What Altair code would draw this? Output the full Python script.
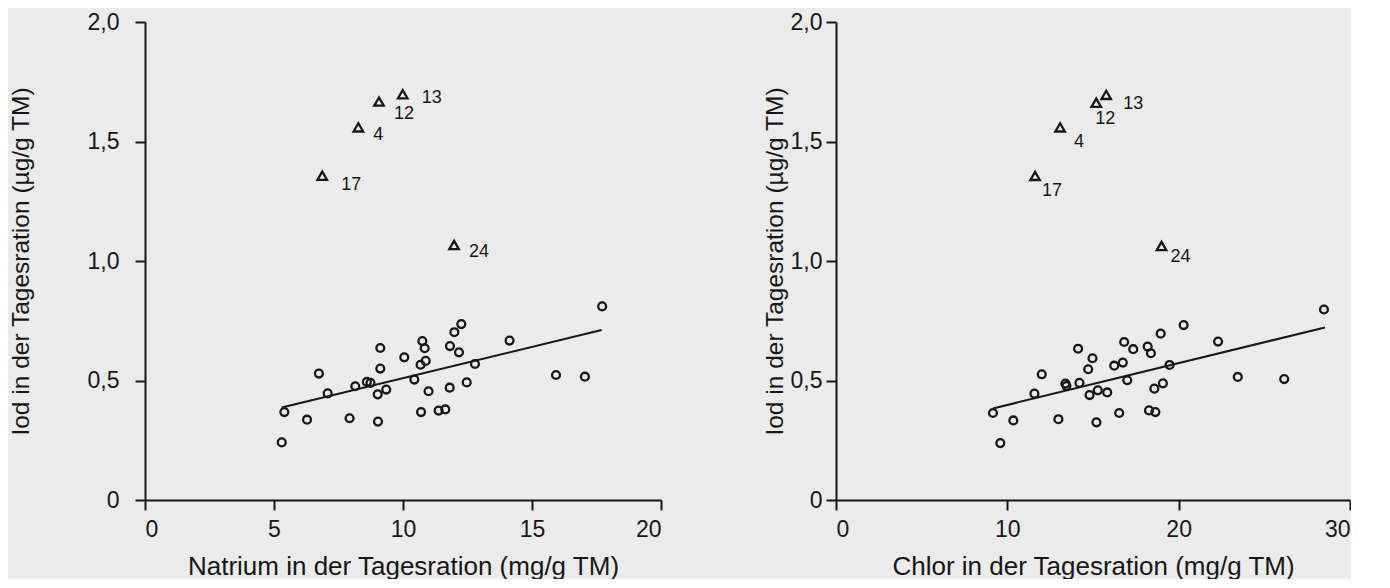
import altair as alt
import pandas as pd

INK = "#161616"
BG = "#ebebeb"
FONT = "Liberation Sans"

# ---------------- Left panel: Natrium ----------------
na_x = [5.40, 5.30, 6.28, 6.74, 7.08, 7.93, 8.15, 8.60, 8.74, 9.12, 9.12, 9.02,
        9.03, 9.35, 10.05, 10.44, 10.75, 10.84, 10.68, 10.88, 10.70, 10.99, 11.38,
        11.64, 11.81, 11.82, 11.99, 12.26, 12.17, 12.47, 12.79, 14.13, 15.93,
        17.05, 17.72]
na_y = [0.368, 0.241, 0.336, 0.529, 0.446, 0.342, 0.476, 0.494, 0.490, 0.636,
        0.550, 0.442, 0.328, 0.462, 0.597, 0.504, 0.665, 0.635, 0.566, 0.582,
        0.368, 0.455, 0.374, 0.379, 0.470, 0.644, 0.702, 0.736, 0.618, 0.492,
        0.569, 0.667, 0.523, 0.516, 0.810]
na_out_x = [9.99, 9.07, 8.27, 6.87, 11.98]
na_out_y = [1.698, 1.667, 1.559, 1.357, 1.067]
na_fit_x = [5.30, 17.70]
na_fit_y = [0.387, 0.711]

# ---------------- Right panel: Chlor ----------------
cl_x = [9.16, 9.59, 10.35, 11.58, 12.01, 12.98, 13.39, 13.45, 14.13, 14.21, 14.72,
        14.80, 14.97, 15.20, 15.28, 15.83, 16.24, 16.53, 16.74, 16.82, 17.00,
        17.35, 18.19, 18.38, 18.27, 18.64, 18.58, 18.95, 19.08, 19.47, 20.29,
        22.30, 23.45, 26.16, 28.48]
cl_y = [0.364, 0.238, 0.333, 0.445, 0.526, 0.338, 0.487, 0.477, 0.633, 0.490,
        0.547, 0.439, 0.593, 0.325, 0.459, 0.450, 0.562, 0.364, 0.575, 0.661,
        0.501, 0.631, 0.642, 0.614, 0.375, 0.368, 0.466, 0.696, 0.488, 0.565,
        0.732, 0.663, 0.515, 0.506, 0.797]
cl_out_x = [15.77, 15.19, 13.08, 11.62, 19.00]
cl_out_y = [1.695, 1.662, 1.559, 1.356, 1.063]
cl_fit_x = [9.16, 28.54]
cl_fit_y = [0.383, 0.722]

out_labels = ["13", "12", "4", "17", "24"]

# label offsets (styling, px)
na_label_offsets = {"13": (29, 4), "12": (25, 12), "4": (20, 8), "17": (29, 9), "24": (25, 7)}
cl_label_offsets = {"13": (27, 9), "12": (9, 16), "4": (19, 15), "17": (17, 15), "24": (19, 11)}

Y_TITLE = "Iod in der Tagesration (µg/g TM)"
LABEL_EXPR = "datum.value == 0 ? '0' : replace(format(datum.value, '.1f'), '.', ',')"


def make_panel(xs, ys, oxs, oys, fx, fy, xmax, xvals, xtitle, offsets,
               width, height, y_label_pad, y_title_pad):
    pts = pd.DataFrame({"x": xs, "y": ys})
    outs = pd.DataFrame({"x": oxs, "y": oys, "lab": out_labels})
    fit = pd.DataFrame({"x": fx, "y": fy})

    xscale = alt.Scale(domain=[0, xmax], nice=False, zero=True)
    yscale = alt.Scale(domain=[0, 2], nice=False, zero=True)

    xaxis = alt.Axis(values=xvals, title=xtitle, grid=False, tickSize=10,
                     labelPadding=8, titlePadding=12, domainColor=INK, tickColor=INK,
                     domainWidth=2, tickWidth=2, labelFontSize=23, titleFontSize=26,
                     labelFont=FONT, titleFont=FONT, titleFontWeight="normal",
                     labelColor=INK, titleColor=INK)
    yaxis = alt.Axis(values=[0, 0.5, 1, 1.5, 2], labelExpr=LABEL_EXPR, title=Y_TITLE,
                     grid=False, tickSize=10, labelPadding=y_label_pad,
                     titlePadding=y_title_pad, domainColor=INK, tickColor=INK,
                     domainWidth=2, tickWidth=2, labelFontSize=23, titleFontSize=24.5,
                     labelFont=FONT, titleFont=FONT, titleFontWeight="normal",
                     labelColor=INK, titleColor=INK)

    base_x = alt.X("x:Q", scale=xscale, axis=xaxis)
    base_y = alt.Y("y:Q", scale=yscale, axis=yaxis)

    line = alt.Chart(fit).mark_line(color=INK, strokeWidth=2).encode(x=base_x, y=base_y)
    circles = alt.Chart(pts).mark_point(shape="circle", filled=False, color=INK,
                                        size=62, strokeWidth=2.3, opacity=1).encode(
        x=alt.X("x:Q", scale=xscale), y=alt.Y("y:Q", scale=yscale))
    tris = alt.Chart(outs).mark_point(shape="triangle-up", filled=False, color=INK,
                                      size=90, strokeWidth=2.3, opacity=1).encode(
        x=alt.X("x:Q", scale=xscale), y=alt.Y("y:Q", scale=yscale))
    layers = [line, circles, tris]
    for lab, (dx, dy) in offsets.items():
        layers.append(
            alt.Chart(outs).transform_filter(alt.datum.lab == lab).mark_text(
                font=FONT, fontSize=18, color=INK, dx=dx, dy=dy,
                align="center", baseline="middle").encode(
                x=alt.X("x:Q", scale=xscale), y=alt.Y("y:Q", scale=yscale),
                text="lab:N"))
    return alt.layer(*layers).properties(width=width, height=height)


left = make_panel(na_x, na_y, na_out_x, na_out_y, na_fit_x, na_fit_y, 20,
                  [0, 5, 10, 15, 20], "Natrium in der Tagesration (mg/g TM)",
                  na_label_offsets, 516, 478, 16, 54)
right = make_panel(cl_x, cl_y, cl_out_x, cl_out_y, cl_fit_x, cl_fit_y, 30,
                   [0, 10, 20, 30], "Chlor in der Tagesration (mg/g TM)",
                   cl_label_offsets, 514, 478, 4, 3)

chart = alt.hconcat(left, right, spacing=100).properties(
    background=BG,
    padding={"left": 0, "top": 3, "right": 0, "bottom": 0},
).configure_view(stroke=None)

chart.save("out.html", embed_options={"renderer": "svg", "actions": False})
